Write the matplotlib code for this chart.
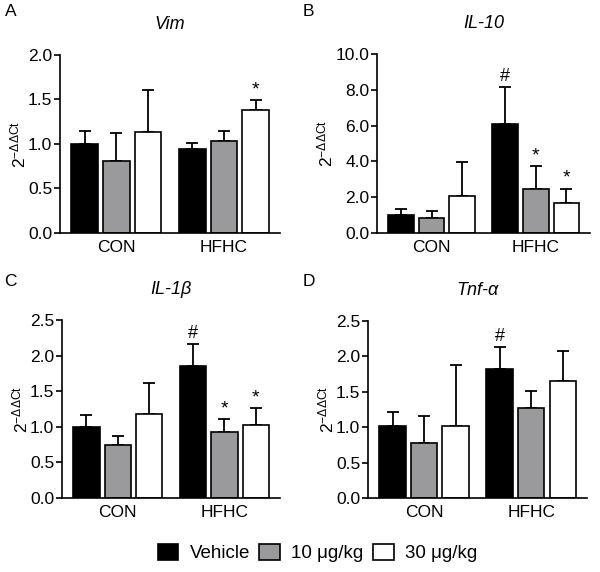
import matplotlib
matplotlib.use("Agg")
import matplotlib.pyplot as plt
from matplotlib.patches import Patch
import numpy as np

plt.rcParams["font.family"] = ["Liberation Sans", "DejaVu Sans"]
plt.rcParams["mathtext.fontset"] = "custom"
plt.rcParams["mathtext.rm"] = "Liberation Sans"
plt.rcParams["mathtext.it"] = "Liberation Sans:italic"

groups = ["CON", "HFHC"]
treatments = ["Vehicle", "10 μg/kg", "30 μg/kg"]
colors = ["#000000", "#9a9a9c", "#ffffff"]

# means per panel: [CON x3, HFHC x3] in order Vehicle, 10, 30
vim_mean = [1.00, 0.81, 1.13, 0.94, 1.03, 1.38]
vim_top = [1.145, 1.12, 1.61, 1.015, 1.15, 1.49]
vim_mark = ["", "", "", "", "", "*"]

il10_mean = [0.99, 0.82, 2.05, 6.07, 2.45, 1.70]
il10_top = [1.35, 1.25, 3.99, 8.15, 3.72, 2.48]
il10_mark = ["", "", "", "#", "*", "*"]

il1b_mean = [1.00, 0.74, 1.18, 1.855, 0.93, 1.02]
il1b_top = [1.17, 0.865, 1.61, 2.16, 1.11, 1.26]
il1b_mark = ["", "", "", "#", "*", "*"]

tnf_mean = [1.01, 0.78, 1.02, 1.815, 1.27, 1.65]
tnf_top = [1.21, 1.16, 1.885, 2.13, 1.51, 2.08]
tnf_mark = ["", "", "", "#", "", ""]

panels = [
    ("A", "Vim", vim_mean, vim_top, vim_mark, 2.0, 0.5),
    ("B", "IL-10", il10_mean, il10_top, il10_mark, 10.0, 2.0),
    ("C", "IL-1β", il1b_mean, il1b_top, il1b_mark, 2.5, 0.5),
    ("D", "Tnf-α", tnf_mean, tnf_top, tnf_mark, 2.5, 0.5),
]

# axes rectangles in pixels (left, right, top, bottom)
W, H = 600, 572
boxes = [(60, 280, 55, 233), (377, 590, 54, 233), (62, 280, 320, 498), (368, 587, 321, 498)]
letter_pos = [(5, 12), (303, 12), (4, 282), (303, 282)]

fig = plt.figure(figsize=(W / 100, H / 100), dpi=100)

xpos = np.array([0, 1, 2, 3.4, 4.4, 5.4])
width = 0.84

for (letter, title, mean, top, mark, ymax, step), (l, r, t, b), (lx, ly) in zip(panels, boxes, letter_pos):
    ax = fig.add_axes([l / W, 1 - b / H, (r - l) / W, (b - t) / H])
    mean = np.array(mean)
    err = np.array(top) - mean
    cols = colors * 2
    ax.bar(xpos, mean, width=width, color=cols, edgecolor="black", linewidth=1.2, zorder=2)
    ax.errorbar(xpos, mean, yerr=[np.zeros_like(err), err], fmt="none", ecolor="black",
                elinewidth=1.3, capsize=4, capthick=1.3, zorder=1)
    for x, y, m in zip(xpos, top, mark):
        if m:
            off = ymax * 0.01
            ax.text(x, y + off, m, ha="center", va="bottom",
                    fontsize=13 if m == "#" else 14)
    ax.set_xlim(-0.78, 6.17)
    ax.set_ylim(0, ymax)
    ticks = np.arange(0, ymax + step / 2, step)
    ax.set_yticks(ticks)
    ax.set_yticklabels([f"{v:.1f}" for v in ticks])
    ax.set_xticks([1, 4.4])
    ax.set_xticklabels(groups)
    ax.spines["top"].set_visible(False)
    ax.spines["right"].set_visible(False)
    ax.spines["left"].set_linewidth(1.2)
    ax.spines["bottom"].set_linewidth(1.2)
    ax.tick_params(axis="x", length=0, labelsize=12.5, pad=5)
    ax.tick_params(axis="y", length=4, width=1.2, labelsize=12.5, pad=1.5)
    ax.set_ylabel(r"$\mathregular{2^{-\Delta\Delta Ct}}$", fontsize=12.5, labelpad=0)
    ax.set_title(title, fontstyle="italic", fontsize=13, pad=19)
    fig.text(lx / W, 1 - ly / H, letter, fontsize=12.5, ha="left", va="center")

handles = [Patch(facecolor=c, edgecolor="black", linewidth=1.2) for c in colors]
fig.legend(handles, treatments, loc="center", bbox_to_anchor=(0.529, 1 - 553 / H), ncol=3,
           frameon=False, fontsize=13.5, handlelength=1.1, handleheight=1.0,
           handletextpad=0.6, columnspacing=0.5)

fig.savefig("out.png", dpi=100)
